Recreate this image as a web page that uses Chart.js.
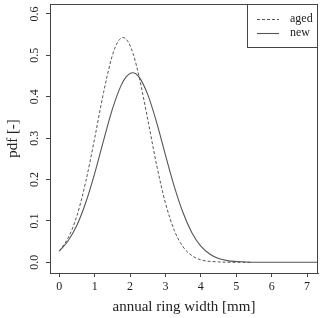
<!DOCTYPE html>
<html>
<head>
<meta charset="utf-8">
<script src="https://cdn.jsdelivr.net/npm/chart.js@4.4.0/dist/chart.umd.min.js"></script>
<style>
  body { margin: 0; background: #fff; }
  #wrap { width: 321px; height: 318px; }
</style>
</head>
<body>
<div id="wrap"><canvas id="myChart" width="321" height="318"></canvas></div>
<script>
// values
const agedWidth = [0, 0.25, 0.5, 0.75, 1, 1.25, 1.5, 1.65, 1.8, 1.95, 2.1, 2.25, 2.5, 2.75, 3, 3.25, 3.5, 3.75, 4, 4.5, 5, 5.4];
const agedPdf = [0.027, 0.059, 0.113, 0.196, 0.300, 0.410, 0.500, 0.532, 0.543, 0.532, 0.500, 0.450, 0.345, 0.235, 0.143, 0.077, 0.037, 0.016, 0.006, 0.001, 0.000, 0.000];

const newWidth = [0, 0.25, 0.5, 0.75, 1, 1.25, 1.5, 1.75, 1.9, 2.07, 2.25, 2.5, 2.75, 3, 3.25, 3.5, 3.75, 4, 4.25, 4.5, 4.75, 5, 5.5, 6, 7.3];
const newPdf = [0.027, 0.052, 0.090, 0.145, 0.215, 0.294, 0.370, 0.428, 0.449, 0.458, 0.448, 0.405, 0.338, 0.259, 0.183, 0.119, 0.071, 0.039, 0.020, 0.009, 0.004, 0.002, 0.000, 0.000, 0.000];

const seriesNames = ['aged', 'new'];
const yTickValues = [0, 0.1, 0.2, 0.3, 0.4, 0.5, 0.6];
const yTickLabels = ['0.0', '0.1', '0.2', '0.3', '0.4', '0.5', '0.6'];

const serif = '"Liberation Serif", "DejaVu Serif", serif';
const ink = '#222';
const lineGrey = '#555';
const boxGrey = '#444';

function toPoints(xs, ys) {
    return xs.map(function (x, i) { return { x: x, y: ys[i] }; });
}

// box, rotated y labels, legend
const extras = {
    id: 'extras',
    afterDraw: function (chart) {
        const ctx = chart.ctx;
        const area = chart.chartArea;
        const y = chart.scales.y;

        ctx.save();
        ctx.strokeStyle = boxGrey;
        ctx.lineWidth = 1;
        ctx.strokeRect(area.left + 0.5, area.top + 0.5, area.right - area.left - 1, area.bottom - area.top);

        ctx.fillStyle = ink;
        ctx.font = '12px ' + serif;
        ctx.textAlign = 'center';
        ctx.textBaseline = 'middle';
        yTickValues.forEach(function (v, i) {
            ctx.save();
            ctx.translate(35, y.getPixelForValue(v));
            ctx.rotate(-Math.PI / 2);
            ctx.fillText(yTickLabels[i], 0, 0);
            ctx.restore();
        });

        ctx.save();
        ctx.font = '15px ' + serif;
        ctx.translate(13, (area.top + area.bottom) / 2);
        ctx.rotate(-Math.PI / 2);
        ctx.fillText('pdf [-]', 0, 0);
        ctx.restore();

        // legend
        const boxLeft = 247;
        const boxBottom = 47;
        ctx.fillStyle = '#fff';
        ctx.fillRect(boxLeft, area.top, area.right - boxLeft, boxBottom - area.top);
        ctx.strokeStyle = boxGrey;
        ctx.strokeRect(boxLeft + 0.5, area.top + 0.5, area.right - boxLeft - 1, boxBottom - area.top);

        ctx.font = '12px ' + serif;
        ctx.textAlign = 'left';
        chart.data.datasets.forEach(function (ds, i) {
            const ly = 19 + i * 14;
            ctx.strokeStyle = ds.borderColor;
            ctx.lineWidth = ds.borderWidth;
            ctx.setLineDash(ds.borderDash || []);
            ctx.beginPath();
            ctx.moveTo(257, ly + 0.5);
            ctx.lineTo(279, ly + 0.5);
            ctx.stroke();
            ctx.setLineDash([]);
            ctx.fillStyle = ink;
            ctx.fillText(ds.label, 290, ly);
        });
        ctx.restore();
    }
};

let ctx = document.getElementById('myChart').getContext('2d');
let myChart = new Chart(ctx, {
    type: 'line',
    data: {
        datasets: [{
            label: seriesNames[0],
            data: toPoints(agedWidth, agedPdf),
            borderColor: lineGrey,
            borderWidth: 1,
            borderDash: [3, 2],
            pointRadius: 0,
            cubicInterpolationMode: 'monotone'
        }, {
            label: seriesNames[1],
            data: toPoints(newWidth, newPdf),
            borderColor: lineGrey,
            borderWidth: 1.1,
            pointRadius: 0,
            cubicInterpolationMode: 'monotone'
        }]
    },
    options: {
        responsive: false,
        animation: false,
        layout: { padding: { top: 4, right: 3, left: 0, bottom: 0 } },
        plugins: {
            legend: { display: false },
            tooltip: { enabled: false }
        },
        scales: {
            x: {
                type: 'linear',
                min: -0.263,
                max: 7.31,
                afterFit: function (scale) { scale.height = 45; },
                ticks: {
                    stepSize: 1,
                    includeBounds: false,
                    maxRotation: 0,
                    padding: 3,
                    color: ink,
                    font: { family: serif, size: 12 }
                },
                grid: { drawOnChartArea: false, tickLength: 4, color: boxGrey },
                border: { color: boxGrey },
                title: {
                    display: true,
                    text: 'annual ring width [mm]',
                    color: ink,
                    font: { family: serif, size: 15 },
                    padding: { top: 0, bottom: 2 }
                }
            },
            y: {
                min: -0.0258,
                max: 0.624,
                afterFit: function (scale) { scale.width = 50; },
                ticks: { stepSize: 0.1, includeBounds: false, display: false },
                grid: { drawOnChartArea: false, tickLength: 4, color: boxGrey },
                border: { color: boxGrey }
            }
        }
    },
    plugins: [extras]
});
</script>
</body>
</html>
